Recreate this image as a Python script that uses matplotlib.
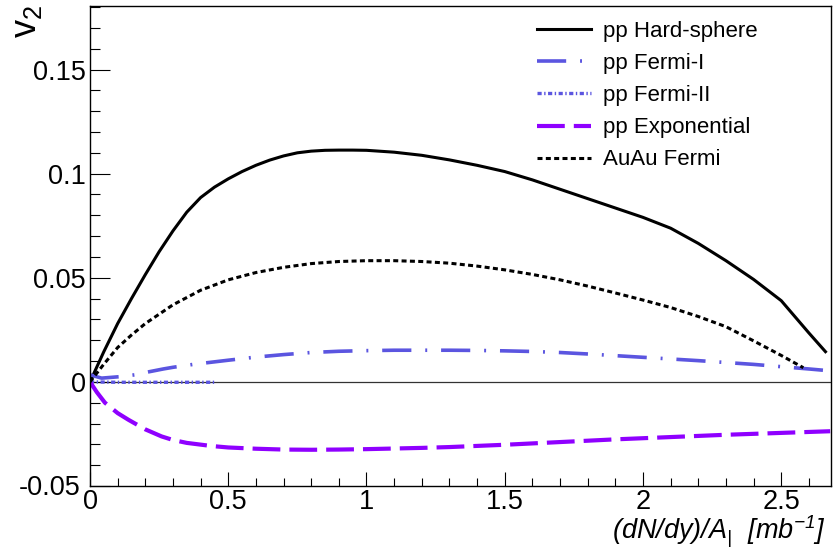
import matplotlib
matplotlib.use('Agg')
import matplotlib.pyplot as plt
from matplotlib.ticker import MultipleLocator, FuncFormatter
from matplotlib.transforms import ScaledTranslation

plt.rcParams['font.family'] = ['Liberation Sans', 'DejaVu Sans']
plt.rcParams['mathtext.fontset'] = 'custom'
plt.rcParams['mathtext.rm'] = 'Liberation Sans'
plt.rcParams['mathtext.it'] = 'Liberation Sans:italic'
plt.rcParams['lines.scale_dashes'] = False

# values
hs_x = [0, 0.05, 0.1, 0.15, 0.2, 0.25, 0.3, 0.35, 0.4, 0.45, 0.5, 0.55, 0.6, 0.65, 0.7, 0.75,
        0.8, 0.85, 0.9, 0.95, 1.0, 1.1, 1.2, 1.3, 1.4, 1.5, 1.6, 1.7, 1.8, 1.9, 2.0, 2.1,
        2.2, 2.3, 2.4, 2.5, 2.6, 2.66]
hs_v = [0, 0.0145, 0.028, 0.040, 0.0515, 0.0625, 0.0725, 0.0815, 0.0885, 0.0935, 0.0975,
        0.1010, 0.1040, 0.1065, 0.1085, 0.1100, 0.1108, 0.1112, 0.1113, 0.1113, 0.1112,
        0.1103, 0.1088, 0.1066, 0.1040, 0.1010, 0.0970, 0.0925, 0.0880, 0.0835, 0.0790,
        0.0738, 0.0665, 0.0582, 0.0492, 0.0390, 0.0235, 0.0145]

f1_x = [0, 0.042, 0.108, 0.163, 0.2, 0.265, 0.3, 0.379, 0.5, 0.6, 0.7, 0.8, 0.9, 1.0, 1.1,
        1.2, 1.3, 1.4, 1.5, 1.6, 1.7, 1.8, 1.9, 2.0, 2.1, 2.2, 2.3, 2.4, 2.5, 2.6, 2.677]
f1_v = [0.0034, 0.0018, 0.0025, 0.0034, 0.0045, 0.0062, 0.0070, 0.0085, 0.0104, 0.0119,
        0.0131, 0.0141, 0.0147, 0.0150, 0.0152, 0.0152, 0.0152, 0.0151, 0.0149, 0.0146,
        0.0141, 0.0134, 0.0126, 0.0118, 0.0110, 0.0102, 0.0093, 0.0084, 0.0073, 0.0062,
        0.0053]

f2_x = [0, 0.1, 0.2, 0.3, 0.458]
f2_v = [0, -0.0002, -0.0002, -0.0002, -0.0002]

ex_x = [0, 0.025, 0.054, 0.1, 0.139, 0.2, 0.259, 0.3, 0.35, 0.44, 0.5, 0.6, 0.7, 0.8, 0.9,
        1.0, 1.1, 1.2, 1.3, 1.5, 1.7, 1.9, 2.1, 2.3, 2.5, 2.677]
ex_v = [0, -0.0050, -0.0100, -0.0150, -0.0182, -0.0228, -0.0262, -0.0279, -0.0293, -0.0308,
        -0.0315, -0.0321, -0.0325, -0.0326, -0.0325, -0.0323, -0.0320, -0.0317, -0.0313,
        -0.0302, -0.0289, -0.0276, -0.0265, -0.0254, -0.0245, -0.0237]

au_x = [0, 0.05, 0.1, 0.15, 0.2, 0.25, 0.3, 0.4, 0.5, 0.6, 0.7, 0.8, 0.9, 1.0, 1.1, 1.2,
        1.3, 1.4, 1.5, 1.6, 1.7, 1.8, 1.9, 2.0, 2.1, 2.2, 2.3, 2.4, 2.5, 2.58]
au_v = [0, 0.0085, 0.0165, 0.0225, 0.0280, 0.0325, 0.0370, 0.0440, 0.0490, 0.0525, 0.0550,
        0.0568, 0.0578, 0.0582, 0.0582, 0.0578, 0.0570, 0.0556, 0.0538, 0.0516, 0.0490,
        0.0460, 0.0427, 0.0393, 0.0357, 0.0314, 0.0265, 0.0197, 0.0127, 0.0068]

labels = ['pp Hard-sphere', 'pp Fermi-I', 'pp Fermi-II', 'pp Exponential', 'AuAu Fermi']

blue = '#5b55e0'
violet = '#8f00ff'

fig = plt.figure(figsize=(8.33, 5.51), dpi=100)
ax = fig.add_axes([90 / 833, 1 - 486 / 551, 741 / 833, 480 / 551])

ax.axhline(0, color='#333333', lw=0.9, zorder=1)

h1, = ax.plot(hs_x, hs_v, color='k', lw=2.2, label=labels[0])
h2, = ax.plot(f1_x, f1_v, color=blue, lw=2.6, dashes=(21, 10, 1.4, 10), label=labels[1])
h3, = ax.plot(f2_x, f2_v, color=blue, lw=2.4, dashes=(3, 1.8, 1, 1.8), label=labels[2])
h4, = ax.plot(ex_x, ex_v, color=violet, lw=3.0, dashes=(20, 6.5), label=labels[3])
h5, = ax.plot(au_x, au_v, color='k', lw=2.2, dashes=(3.6, 2.4), label=labels[4])

ax.set_xlim(0, 2.68)
ax.set_ylim(-0.05, 0.1805)

ax.xaxis.set_major_locator(MultipleLocator(0.5))
ax.xaxis.set_minor_locator(MultipleLocator(0.1))
ax.yaxis.set_major_locator(MultipleLocator(0.05))
ax.yaxis.set_minor_locator(MultipleLocator(0.01))
fmt = FuncFormatter(lambda v, p: '%g' % round(v, 4))
ax.xaxis.set_major_formatter(fmt)
ax.yaxis.set_major_formatter(fmt)

ax.tick_params(axis='both', which='both', direction='in', top=False, right=False)
ax.tick_params(axis='y', which='major', length=14.4, width=0.8, labelsize=19.5, pad=3)
ax.tick_params(axis='y', which='minor', length=7.2, width=0.8)
ax.tick_params(axis='x', which='major', length=10, width=0.8, labelsize=19.5, pad=2)
ax.tick_params(axis='x', which='minor', length=5.5, width=0.8)
for s in ax.spines.values():
    s.set_linewidth(1.0)

ax.legend(handles=[h1, h2, h3, h4, h5], loc='upper left',
          bbox_to_anchor=(537 / 833, 1 - 21 / 551), bbox_transform=fig.transFigure,
          frameon=False, fontsize=16, handlelength=2.43, handletextpad=0.54,
          labelspacing=0.5, borderpad=0, borderaxespad=0)

fig.text(825 / 833, 1 - 540 / 551, r'(dN/dy)/A$_{\mathregular{|}}$  [mb${}^{\mathregular{-1}}$]',
         ha='right', va='baseline', fontsize=19.5, style='italic')
fig.text(9 / 833, 1 - 5 / 551, r'v$_{\mathregular{2}}$', rotation=90, fontsize=26,
         ha='left', va='top')

# nudge the -0.05 label a bit left so it clears the x "0" label
fig.canvas.draw()
for tick in ax.yaxis.get_major_ticks():
    if abs(tick.get_loc() + 0.05) < 1e-6:
        lab = tick.label1
        lab.set_transform(lab.get_transform() + ScaledTranslation(-0.05, 0.01, fig.dpi_scale_trans))

fig.savefig('out.png', dpi=100)
